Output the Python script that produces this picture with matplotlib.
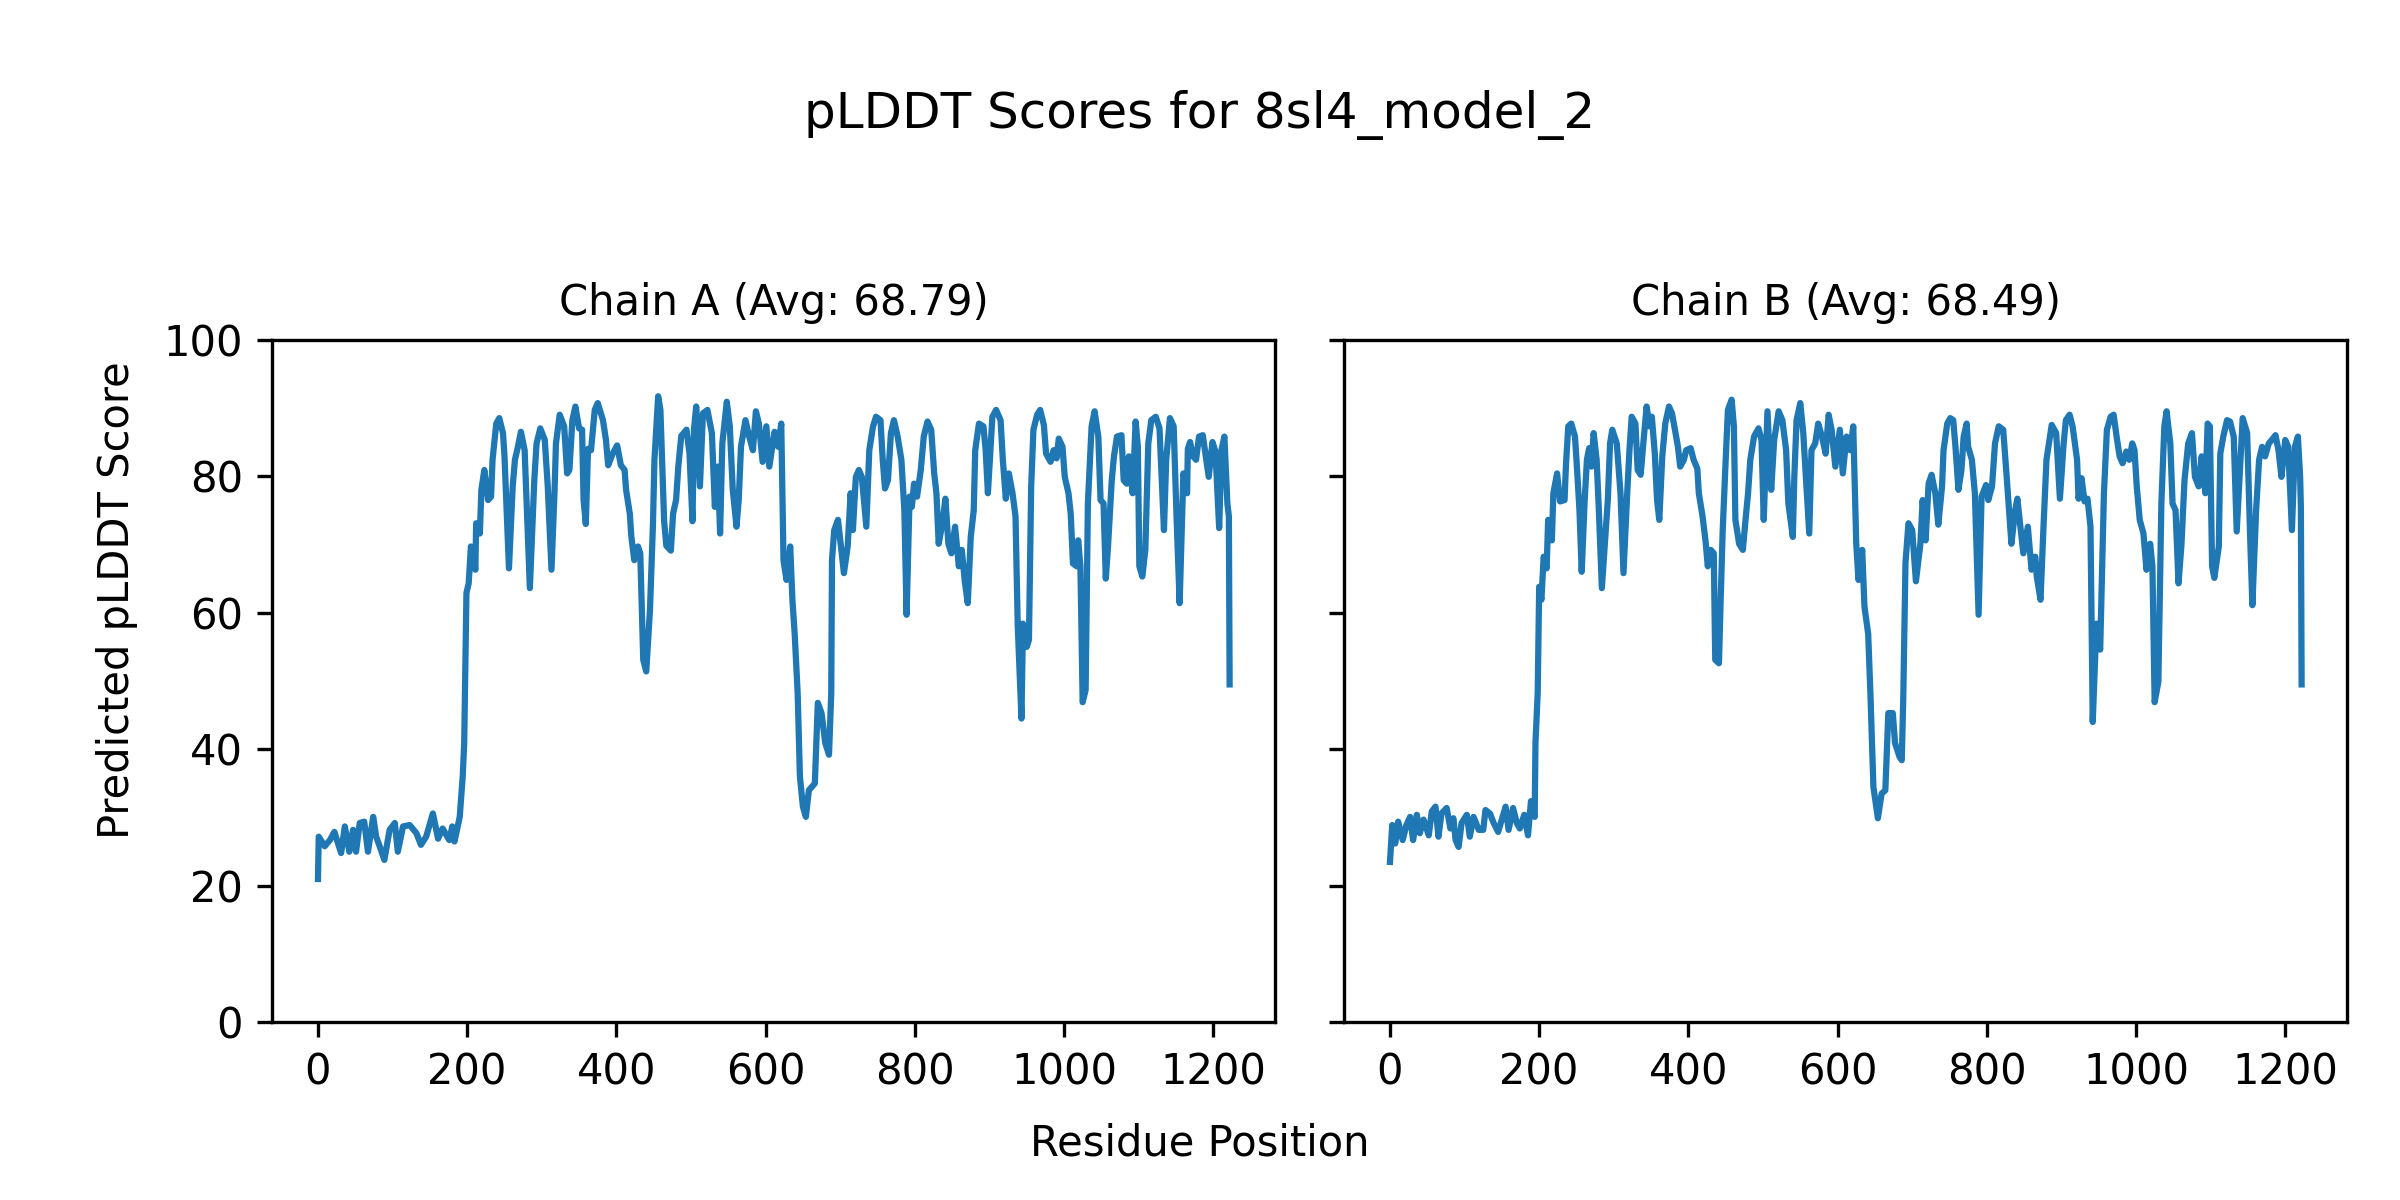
import matplotlib
matplotlib.use("Agg")
import matplotlib.pyplot as plt

# pLDDT traces (residue index, score)
chain_a_res = [0, 1, 9, 16, 22, 31, 36, 42, 47, 51, 56, 62, 67, 74, 78, 82, 89, 96, 103, 107,
               114, 123, 132, 138, 145, 154, 161, 167, 176, 180, 183, 190, 194, 196, 199, 202, 205, 211, 212, 217,
               219, 223, 228, 232, 234, 239, 243, 248, 250, 256, 261, 264, 268, 272, 277, 284, 290, 293, 298, 304,
               308, 313, 317, 319, 324, 330, 334, 337, 341, 345, 350, 354, 356, 359, 362, 366, 371, 375, 382, 386,
               389, 395, 401, 406, 411, 413, 418, 420, 424, 429, 432, 436, 440, 445, 449, 451, 456, 459, 464, 467,
               473, 476, 480, 483, 487, 494, 498, 502, 504, 507, 512, 516, 522, 528, 532, 536, 539, 542, 548, 552,
               556, 561, 564, 567, 573, 578, 583, 587, 591, 596, 601, 605, 612, 617, 621, 624, 628, 633, 636, 639,
               643, 646, 650, 654, 658, 666, 670, 675, 680, 685, 688, 689, 692, 697, 705, 710, 714, 717, 721, 725,
               729, 735, 739, 744, 748, 754, 757, 760, 764, 768, 772, 777, 782, 786, 789, 793, 796, 799, 803, 808,
               812, 817, 822, 826, 829, 832, 837, 841, 845, 849, 854, 859, 863, 867, 871, 875, 879, 881, 886, 892,
               895, 898, 904, 909, 915, 918, 922, 926, 931, 935, 938, 943, 945, 950, 953, 956, 959, 964, 968, 973,
               976, 982, 986, 990, 993, 998, 1001, 1006, 1009, 1012, 1017, 1019, 1022, 1025, 1029, 1032, 1037, 1041, 1046, 1049,
               1053, 1056, 1059, 1064, 1067, 1071, 1077, 1080, 1084, 1087, 1092, 1096, 1099, 1101, 1105, 1109, 1113, 1117, 1123, 1128,
               1134, 1137, 1142, 1147, 1151, 1155, 1160, 1165, 1166, 1169, 1173, 1177, 1181, 1186, 1190, 1194, 1199, 1203, 1208, 1211,
               1215, 1219, 1221, 1222]
chain_a_plddt = [21.0, 27.2, 25.8, 26.7, 27.9, 24.8, 28.7, 25.0, 28.2, 25.0, 29.2, 29.4, 25.0, 30.1, 27.2, 26.0, 23.8, 28.2, 29.2, 25.0,
                 28.7, 28.9, 27.7, 26.0, 27.2, 30.6, 26.9, 28.4, 26.7, 28.7, 26.5, 30.1, 36.0, 40.9, 62.9, 64.3, 69.7, 66.3, 73.1, 71.6,
                 78.0, 80.9, 76.5, 77.0, 82.4, 87.7, 88.5, 86.3, 82.9, 66.5, 78.5, 82.4, 84.3, 86.5, 83.8, 63.6, 79.5, 84.8, 87.0, 85.3,
                 78.5, 66.3, 77.5, 84.8, 89.0, 87.3, 80.4, 80.9, 88.2, 90.2, 87.0, 86.8, 76.5, 73.0, 84.0, 83.8, 89.7, 90.7, 88.2, 85.3,
                 81.6, 83.3, 84.5, 81.6, 80.9, 78.0, 74.5, 71.2, 67.7, 69.7, 68.7, 53.1, 51.4, 60.4, 72.9, 82.4, 91.7, 89.7, 73.4, 69.8,
                 69.1, 74.5, 76.5, 81.4, 85.9, 86.8, 83.3, 73.4, 86.8, 90.2, 78.5, 89.2, 89.7, 86.3, 75.5, 81.4, 71.6, 84.8, 90.9, 87.3,
                 78.0, 72.6, 76.5, 84.3, 88.2, 85.8, 83.8, 89.5, 87.7, 82.1, 87.3, 81.4, 86.5, 84.3, 87.7, 67.7, 64.8, 69.7, 61.8, 56.9,
                 48.2, 36.0, 31.6, 30.1, 34.0, 35.0, 46.8, 45.3, 40.9, 39.2, 48.2, 67.7, 72.1, 73.6, 65.8, 69.7, 77.5, 72.1, 79.9, 80.9,
                 79.9, 72.6, 83.8, 87.3, 88.7, 88.2, 82.4, 78.2, 79.4, 86.3, 88.2, 85.8, 82.4, 75.0, 59.7, 77.0, 75.5, 78.9, 77.0, 80.9,
                 85.8, 88.0, 86.8, 80.4, 77.5, 70.1, 73.1, 76.7, 70.1, 68.7, 72.6, 66.8, 69.2, 64.6, 61.4, 71.1, 75.0, 83.8, 87.7, 87.3,
                 83.8, 77.5, 88.7, 89.7, 88.2, 82.4, 76.7, 80.4, 77.5, 74.1, 58.0, 44.5, 58.4, 55.0, 56.0, 78.5, 86.8, 89.0, 89.7, 87.5,
                 83.3, 82.1, 83.8, 82.6, 85.5, 84.3, 79.9, 77.5, 74.5, 67.2, 66.8, 70.6, 66.8, 46.9, 48.7, 76.0, 87.3, 89.5, 85.8, 76.5,
                 76.0, 65.0, 69.7, 79.4, 82.9, 85.8, 86.0, 79.4, 78.9, 82.9, 77.5, 88.0, 84.3, 66.8, 65.3, 69.2, 84.8, 88.2, 88.7, 87.0,
                 72.1, 82.4, 88.5, 87.3, 73.6, 61.4, 80.4, 77.5, 84.0, 85.0, 82.9, 82.4, 85.8, 86.0, 82.9, 79.9, 85.0, 83.6, 72.4, 83.8,
                 85.8, 76.0, 74.1, 49.5]

chain_b_res = [0, 3, 7, 11, 17, 22, 27, 31, 36, 40, 45, 52, 56, 61, 65, 69, 76, 81, 85, 88,
               92, 96, 103, 107, 112, 119, 125, 128, 134, 139, 145, 151, 155, 159, 165, 170, 174, 180, 185, 189,
               194, 195, 198, 200, 203, 206, 210, 212, 217, 219, 224, 228, 234, 236, 239, 243, 248, 250, 254, 257,
               261, 264, 267, 270, 273, 277, 280, 284, 288, 292, 295, 298, 304, 309, 313, 318, 321, 324, 329, 332,
               336, 340, 344, 348, 351, 355, 358, 361, 365, 369, 374, 378, 382, 386, 389, 394, 397, 403, 407, 412,
               414, 419, 423, 426, 430, 434, 436, 441, 443, 446, 450, 453, 458, 461, 463, 468, 473, 477, 480, 483,
               488, 494, 498, 501, 506, 511, 515, 521, 526, 531, 534, 540, 542, 545, 550, 554, 559, 562, 565, 570,
               574, 579, 584, 588, 592, 597, 603, 607, 612, 617, 621, 625, 628, 633, 636, 641, 644, 648, 654, 659,
               664, 668, 674, 677, 683, 686, 688, 691, 695, 700, 705, 711, 714, 718, 722, 726, 731, 735, 740, 742,
               747, 751, 755, 758, 762, 766, 769, 773, 775, 780, 784, 789, 793, 799, 802, 807, 811, 816, 822, 827,
               833, 838, 841, 845, 849, 855, 860, 865, 867, 872, 876, 880, 887, 893, 898, 903, 906, 911, 915, 921,
               923, 927, 931, 935, 939, 942, 947, 952, 957, 961, 966, 970, 974, 978, 982, 987, 991, 995, 998, 1001,
               1005, 1010, 1014, 1019, 1022, 1025, 1030, 1034, 1038, 1041, 1046, 1049, 1053, 1057, 1061, 1065, 1070, 1075, 1079, 1084,
               1088, 1093, 1096, 1099, 1102, 1105, 1111, 1113, 1117, 1122, 1126, 1131, 1135, 1140, 1143, 1149, 1153, 1156, 1161, 1165,
               1169, 1173, 1178, 1182, 1187, 1191, 1195, 1200, 1204, 1209, 1213, 1217, 1220, 1221, 1222]
chain_b_plddt = [23.5, 28.9, 26.2, 29.4, 26.7, 28.9, 30.1, 26.7, 30.4, 27.7, 29.7, 27.4, 30.9, 31.6, 27.2, 30.6, 31.4, 28.4, 29.9, 26.7,
                 25.7, 29.2, 30.4, 27.2, 30.1, 28.2, 28.2, 31.1, 30.6, 29.2, 27.9, 30.1, 31.6, 28.2, 31.4, 29.2, 28.4, 30.4, 27.4, 32.4,
                 30.1, 40.9, 48.2, 63.8, 61.9, 68.2, 66.5, 73.6, 70.6, 77.5, 80.4, 76.3, 76.5, 81.9, 87.3, 87.7, 85.8, 82.4, 75.0, 66.0,
                 76.5, 82.4, 84.1, 81.4, 86.3, 82.4, 75.0, 63.6, 70.1, 76.5, 84.8, 86.8, 84.8, 77.5, 65.8, 77.5, 83.8, 88.7, 87.7, 80.9,
                 80.2, 85.3, 90.2, 87.3, 88.7, 83.3, 76.5, 73.6, 82.9, 87.7, 90.2, 89.2, 86.8, 84.3, 81.4, 82.4, 83.8, 84.1, 82.4, 81.1,
                 77.5, 74.1, 70.5, 66.8, 69.2, 68.7, 53.1, 52.6, 60.9, 72.1, 82.4, 89.7, 91.2, 87.3, 73.6, 70.1, 69.2, 74.1, 77.5, 82.4,
                 85.8, 87.0, 85.3, 73.6, 89.5, 78.0, 85.3, 89.5, 88.2, 83.8, 76.0, 71.1, 79.9, 88.2, 90.7, 86.3, 77.0, 71.6, 83.8, 84.8,
                 87.7, 85.8, 83.3, 89.0, 86.8, 81.4, 86.8, 80.4, 85.8, 83.8, 87.3, 70.1, 64.8, 69.2, 60.9, 56.9, 48.2, 34.5, 29.9, 33.5,
                 34.0, 45.3, 45.3, 40.9, 38.9, 38.4, 47.3, 67.3, 73.1, 72.1, 64.6, 70.1, 76.5, 70.6, 78.9, 80.2, 77.5, 72.9, 78.5, 83.8,
                 87.7, 88.5, 88.2, 84.3, 78.0, 80.9, 85.8, 87.7, 84.3, 82.4, 77.5, 59.7, 77.0, 78.7, 76.5, 78.5, 84.8, 87.3, 86.8, 79.4,
                 70.1, 75.0, 76.7, 72.6, 68.7, 72.6, 66.3, 68.2, 65.3, 61.9, 72.6, 82.4, 87.5, 86.3, 76.7, 84.8, 88.2, 89.0, 87.3, 82.4,
                 76.7, 79.7, 76.3, 76.7, 72.6, 44.0, 58.4, 54.6, 77.5, 86.8, 88.7, 89.0, 85.8, 82.9, 81.9, 83.6, 82.4, 84.8, 83.8, 78.5,
                 73.6, 71.6, 66.3, 70.1, 66.8, 46.9, 49.9, 76.0, 87.3, 89.5, 84.8, 76.0, 75.0, 64.3, 70.1, 79.4, 84.8, 86.3, 79.9, 78.5,
                 82.9, 77.5, 87.7, 87.3, 66.8, 65.1, 69.7, 83.3, 85.8, 88.2, 88.0, 85.8, 71.9, 82.4, 88.5, 86.3, 71.1, 61.1, 75.0, 82.4,
                 84.3, 82.9, 84.8, 85.3, 86.0, 83.8, 79.9, 85.3, 84.3, 72.1, 84.3, 85.8, 79.9, 75.5, 49.5]

chain_names = ["A", "B"]
chain_avgs = [68.79, 68.49]
model_name = "8sl4_model_2"

fig, axes = plt.subplots(1, 2, figsize=(8, 4), sharey=True)
fig.subplots_adjust(left=0.1135, right=0.978, bottom=0.148, top=0.717, wspace=0.069)

series = [(chain_a_res, chain_a_plddt), (chain_b_res, chain_b_plddt)]
for ax, (res, vals), name, avg in zip(axes, series, chain_names, chain_avgs):
    ax.plot(res, vals, color="#1f77b4", linewidth=1.5)
    ax.set_title(f"Chain {name} (Avg: {avg:.2f})", fontsize=10)
    ax.set_ylim(0, 100)

# shared labels sit on the figure, not the axes
fig.suptitle(f"pLDDT Scores for {model_name}", fontsize=12, y=0.925)
fig.supxlabel("Residue Position", fontsize=10, y=0.03)
fig.supylabel("Predicted pLDDT Score", fontsize=10, x=0.04)

fig.savefig("out.png", dpi=300)
